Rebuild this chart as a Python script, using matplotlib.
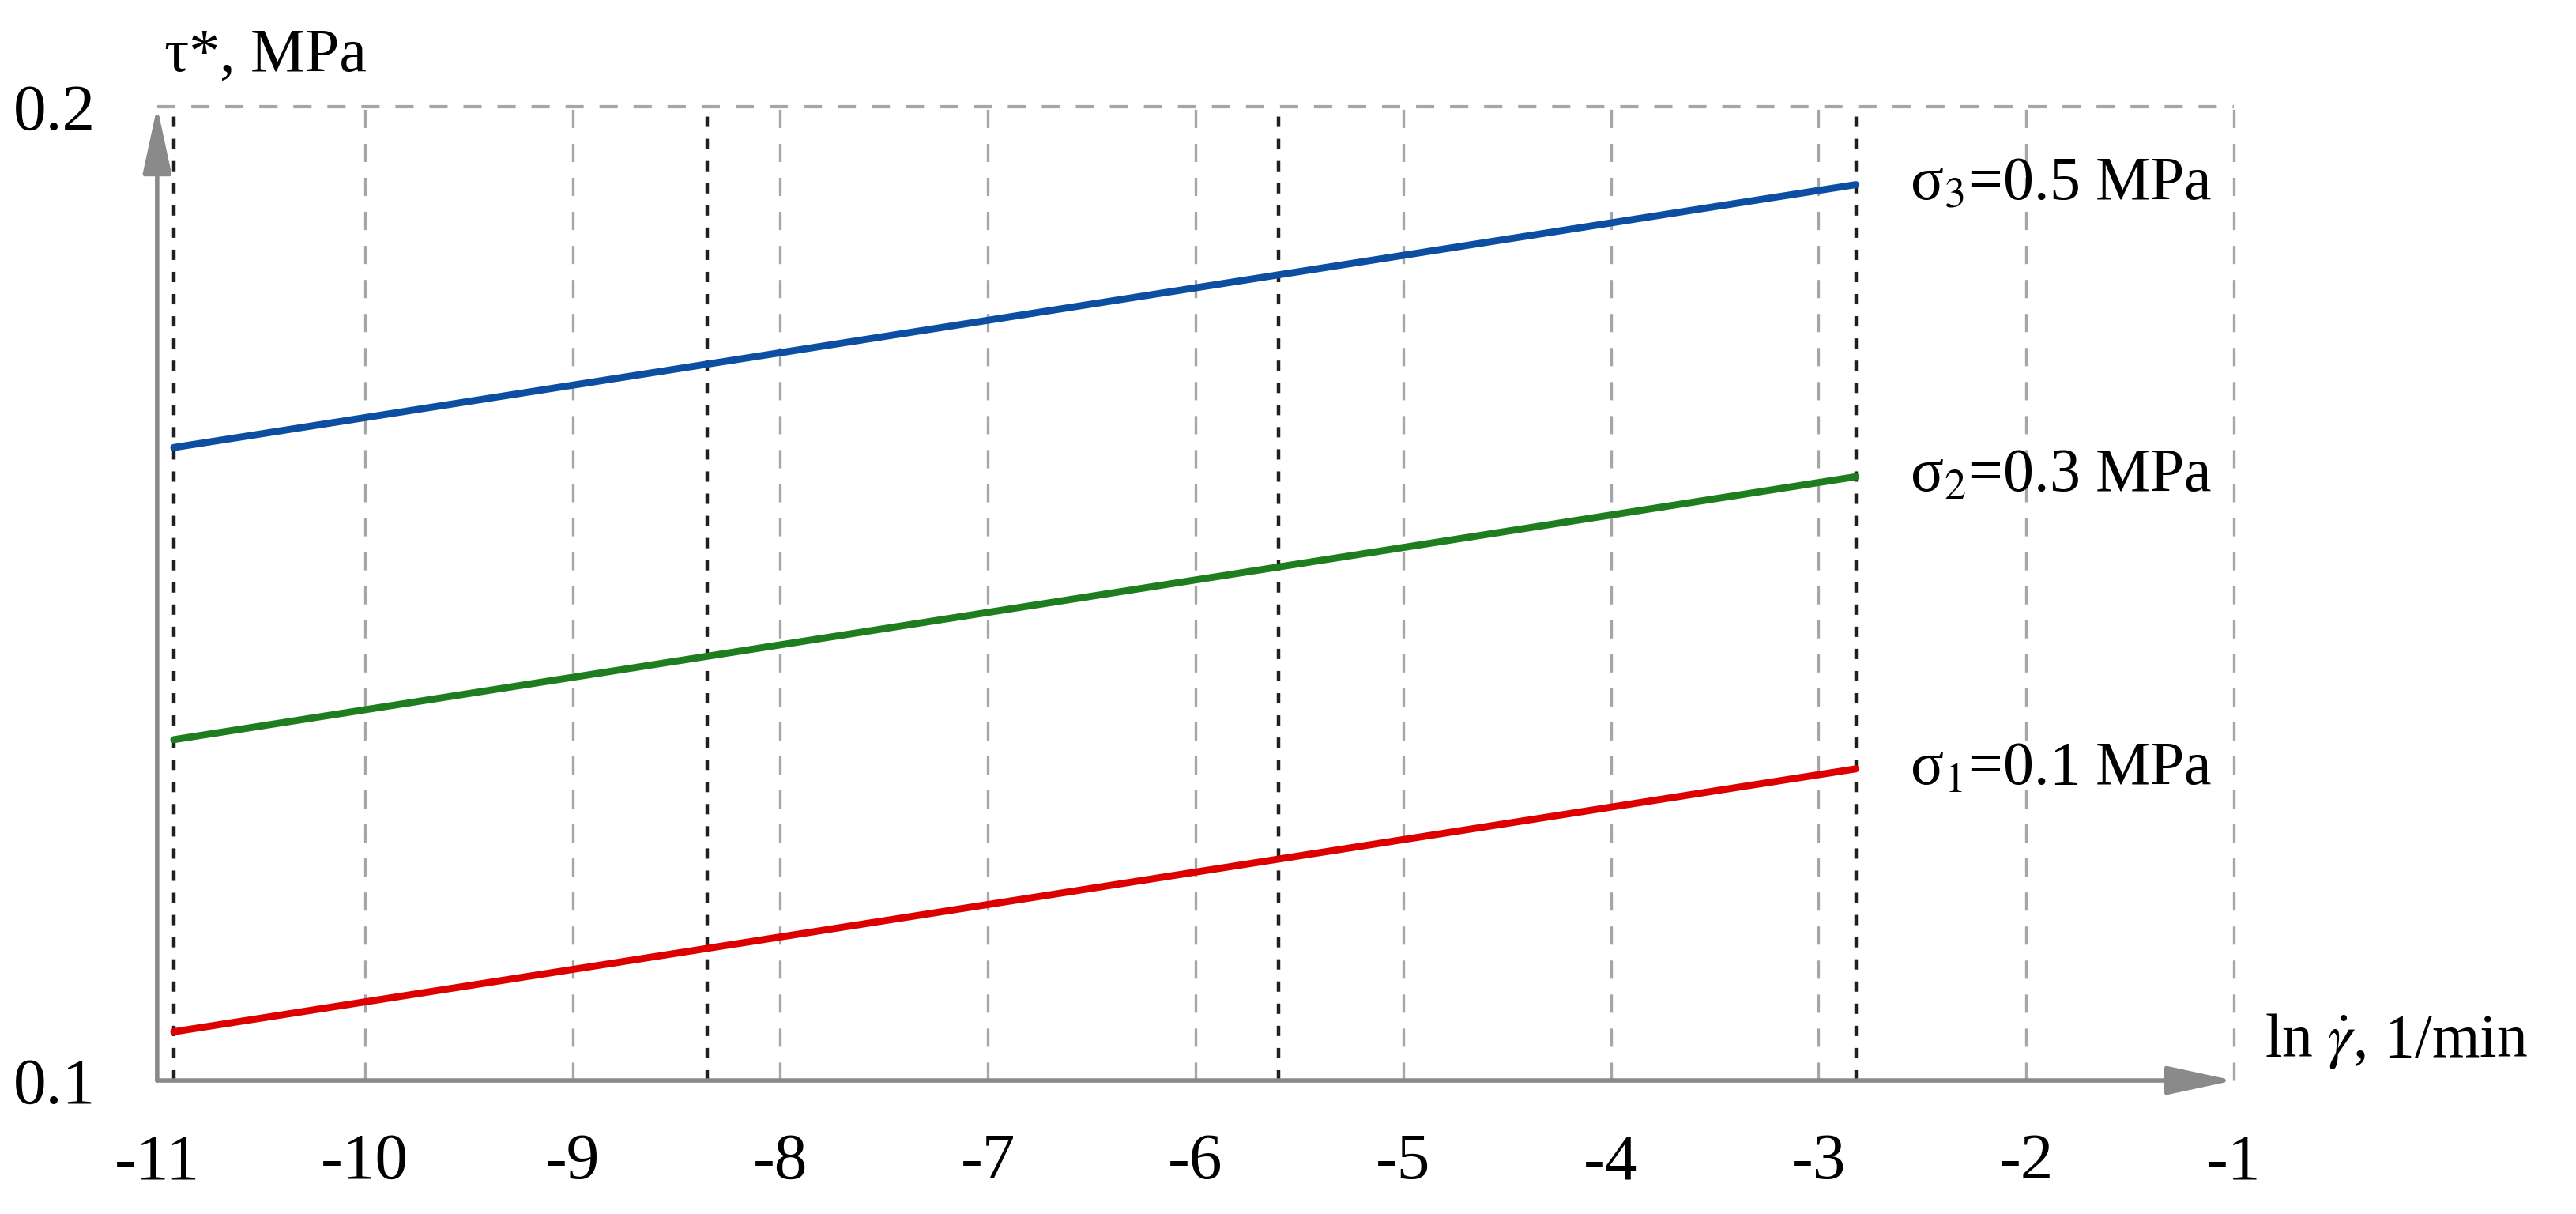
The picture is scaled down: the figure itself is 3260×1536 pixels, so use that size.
import matplotlib
matplotlib.use("Agg")
import matplotlib.pyplot as plt

plt.rcParams["font.family"] = ["Liberation Serif", "DejaVu Serif"]
plt.rcParams["mathtext.fontset"] = "stix"
plt.rcParams["lines.scale_dashes"] = False
plt.rcParams["axes.unicode_minus"] = False

# ln of the tested shear rates (black dotted verticals)
rate_lines = [-10.92, -8.35, -5.60, -2.82]

x_ticks = [-11, -10, -9, -8, -7, -6, -5, -4, -3, -2, -1]
x_tick_labels = ["-11", "-10", "-9", "-8", "-7", "-6", "-5", "-4", "-3", "-2", "-1"]
y_ticks = [0.1, 0.2]
y_tick_labels = ["0.1", "0.2"]

# each line runs from the first to the last tested rate
ln_rate = [-10.92, -2.82]
tau_s1 = [0.105, 0.132]
tau_s2 = [0.135, 0.162]
tau_s3 = [0.165, 0.192]

series_names = ["σ$_1$=0.1 MPa", "σ$_2$=0.3 MPa", "σ$_3$=0.5 MPa"]
series_values = [tau_s1, tau_s2, tau_s3]
COLORS = ["#dd0000", "#1e7d1e", "#0b4ea2"]

GRID = "#a6a6a6"
AXIS = "#8a8a8a"

fig = plt.figure(figsize=(16.3, 7.68), dpi=200)
ax = fig.add_axes([0.0610, 0.1100, 0.8062, 0.8021])
ax.set_xlim(-11, -1)
ax.set_ylim(0.1, 0.2)
for s in ax.spines.values():
    s.set_visible(False)

# grey dashed grid
for xv in x_ticks[1:]:
    ax.axvline(xv, color=GRID, lw=1.2, linestyle=(0, (8.3, 7.2)), clip_on=False, zorder=1)
ax.axhline(0.2, color=GRID, lw=1.5, linestyle=(0, (8.3, 7.2)), clip_on=False, zorder=1)

# tested rates
for xv in rate_lines:
    ax.axvline(xv, color="#1f1f1f", lw=1.6, linestyle=(0, (4.7, 5.4)), clip_on=False, zorder=2)

# axes with arrows
arrow = dict(arrowstyle="-|>,head_length=1.3,head_width=0.28", mutation_scale=20,
             color=AXIS, lw=2.0, shrinkA=0, shrinkB=0)
ax.annotate("", xy=(-1, 0.1), xytext=(-11, 0.1), arrowprops=arrow, annotation_clip=False, zorder=3)
ax.annotate("", xy=(-11, 0.2), xytext=(-11, 0.1), arrowprops=arrow, annotation_clip=False, zorder=3)

for name, vals, c in zip(series_names, series_values, COLORS):
    ax.plot(ln_rate, vals, color=c, lw=3.2, solid_capstyle="round", zorder=4, clip_on=False)
    ax.text(ln_rate[-1] + 0.26, vals[-1], name, fontsize=28, va="center", ha="left")

ax.set_xticks(x_ticks, x_tick_labels)
ax.set_yticks(y_ticks, y_tick_labels)
ax.tick_params(axis="x", length=0, pad=24, labelsize=30)
ax.tick_params(axis="y", length=0, pad=28, labelsize=30)

fig.text(0.0638, 0.954, "τ*, MPa", fontsize=28, va="center", ha="left")
ax.text(1.015, 0.04, "ln $\\dot{\\gamma}$, 1/min", transform=ax.transAxes,
        fontsize=28, va="center", ha="left")

fig.savefig("out.png", dpi=200)
